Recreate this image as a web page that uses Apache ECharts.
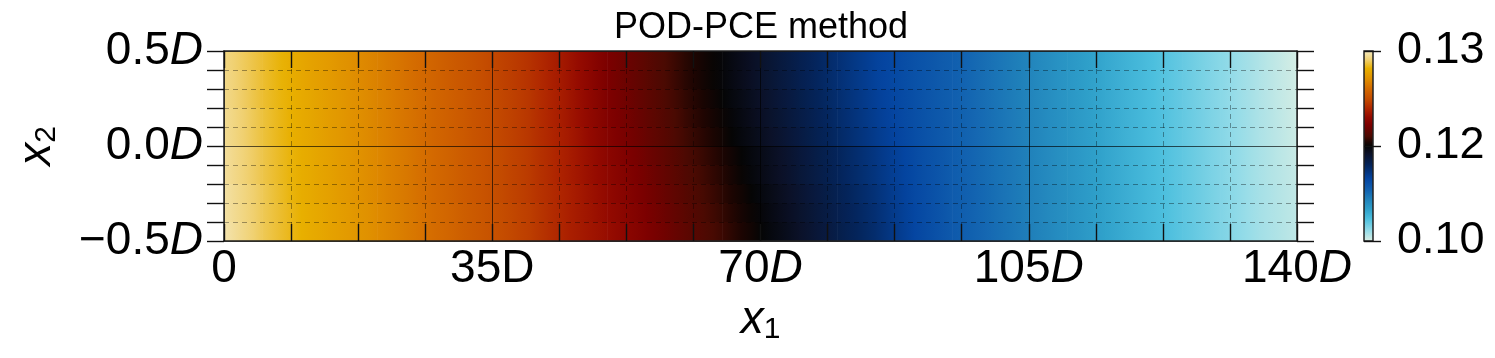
<!DOCTYPE html>
<html>
<head>
<meta charset="utf-8">
<script src="https://cdn.jsdelivr.net/npm/echarts/dist/echarts.min.js"></script>
<style>
html, body { margin: 0; padding: 0; background: #fff; }
#container { width: 1495px; height: 358px; }
</style>
</head>
<body>
<div id="container"></div>
<script>
// x1 sample positions (in D) and x2 row bands (in D), top row first
var xPos = [0, 5, 10, 15, 20, 25, 30, 35, 40, 45, 50, 55, 60, 65, 70, 75, 80, 85, 90, 95, 100, 105, 110, 115, 120, 125, 130, 135, 140];
var rowTop = [0.5, 0.4, 0.3, 0.2, 0.1, 0.0, -0.1, -0.2, -0.3, -0.4];
var rowBottom = [0.4, 0.3, 0.2, 0.1, 0.0, -0.1, -0.2, -0.3, -0.4, -0.5];

// field values, one array per row (top -> bottom)
var row0 = [0.1292, 0.1285, 0.1278, 0.1272, 0.1266, 0.1260, 0.1254, 0.1248, 0.1242, 0.1233, 0.1222, 0.1214, 0.1206, 0.1198, 0.1182, 0.1166, 0.1150, 0.1134, 0.1122, 0.1111, 0.1099, 0.1087, 0.1075, 0.1063, 0.1051, 0.1039, 0.1027, 0.1015, 0.1003];
var row1 = [0.1293, 0.1285, 0.1278, 0.1272, 0.1266, 0.1260, 0.1254, 0.1248, 0.1242, 0.1233, 0.1222, 0.1214, 0.1206, 0.1198, 0.1182, 0.1166, 0.1150, 0.1134, 0.1122, 0.1111, 0.1099, 0.1087, 0.1075, 0.1063, 0.1051, 0.1039, 0.1027, 0.1015, 0.1004];
var row2 = [0.1293, 0.1285, 0.1279, 0.1273, 0.1267, 0.1261, 0.1255, 0.1249, 0.1243, 0.1234, 0.1223, 0.1215, 0.1207, 0.1200, 0.1184, 0.1168, 0.1152, 0.1136, 0.1123, 0.1111, 0.1099, 0.1087, 0.1075, 0.1063, 0.1051, 0.1039, 0.1027, 0.1015, 0.1004];
var row3 = [0.1294, 0.1286, 0.1279, 0.1273, 0.1267, 0.1261, 0.1255, 0.1249, 0.1243, 0.1234, 0.1224, 0.1216, 0.1208, 0.1201, 0.1186, 0.1170, 0.1154, 0.1138, 0.1124, 0.1112, 0.1100, 0.1088, 0.1076, 0.1064, 0.1052, 0.1040, 0.1028, 0.1016, 0.1005];
var row4 = [0.1294, 0.1286, 0.1279, 0.1273, 0.1267, 0.1261, 0.1255, 0.1249, 0.1243, 0.1235, 0.1225, 0.1217, 0.1209, 0.1202, 0.1188, 0.1172, 0.1156, 0.1140, 0.1125, 0.1112, 0.1100, 0.1088, 0.1076, 0.1064, 0.1052, 0.1040, 0.1028, 0.1016, 0.1006];
var row5 = [0.1295, 0.1287, 0.1280, 0.1274, 0.1268, 0.1262, 0.1256, 0.1250, 0.1244, 0.1236, 0.1227, 0.1219, 0.1211, 0.1204, 0.1192, 0.1176, 0.1160, 0.1144, 0.1127, 0.1113, 0.1101, 0.1089, 0.1077, 0.1065, 0.1053, 0.1041, 0.1029, 0.1017, 0.1007];
var row6 = [0.1295, 0.1287, 0.1280, 0.1274, 0.1268, 0.1262, 0.1256, 0.1250, 0.1244, 0.1236, 0.1228, 0.1220, 0.1212, 0.1205, 0.1193, 0.1177, 0.1161, 0.1145, 0.1128, 0.1113, 0.1101, 0.1089, 0.1077, 0.1065, 0.1053, 0.1041, 0.1029, 0.1017, 0.1008];
var row7 = [0.1296, 0.1288, 0.1280, 0.1274, 0.1268, 0.1262, 0.1256, 0.1250, 0.1244, 0.1237, 0.1229, 0.1221, 0.1213, 0.1206, 0.1196, 0.1180, 0.1164, 0.1148, 0.1129, 0.1114, 0.1102, 0.1090, 0.1078, 0.1066, 0.1054, 0.1042, 0.1030, 0.1018, 0.1009];
var row8 = [0.1296, 0.1288, 0.1281, 0.1275, 0.1269, 0.1263, 0.1257, 0.1251, 0.1245, 0.1237, 0.1230, 0.1222, 0.1214, 0.1207, 0.1198, 0.1182, 0.1166, 0.1150, 0.1130, 0.1114, 0.1102, 0.1090, 0.1078, 0.1066, 0.1054, 0.1042, 0.1030, 0.1018, 0.1010];
var row9 = [0.1297, 0.1288, 0.1281, 0.1275, 0.1269, 0.1263, 0.1257, 0.1251, 0.1245, 0.1237, 0.1231, 0.1223, 0.1215, 0.1208, 0.1200, 0.1184, 0.1168, 0.1152, 0.1131, 0.1115, 0.1103, 0.1091, 0.1079, 0.1067, 0.1055, 0.1043, 0.1031, 0.1019, 0.1010];
var rows = [row0, row1, row2, row3, row4, row5, row6, row7, row8, row9];

// tick labels
var xTickVals = [0, 35, 70, 105, 140];
var xTickText = ['{n|0}', '{n|35D}', '{n|70}{i|D}', '{n|105}{i|D}', '{n|140}{i|D}'];
var yTickVals = [-0.5, 0, 0.5];
var yTickText = ['{n|\u22120.5}{i|D}', '{n|0.0}{i|D}', '{n|0.5}{i|D}'];
var cbarTickText = ['0.10', '0.12', '0.13'];

// two-slope norm: 0.10 -> 0, 0.12 -> 0.5, 0.13 -> 1
var vMin = 0.10, vCenter = 0.12, vMax = 0.13;

var cmapStops = [
    [0.00, '#dff0e4'], [0.06, '#92dbe8'], [0.12, '#4cbfde'], [0.17, '#2fa0ca'],
    [0.22, '#2183bb'], [0.27, '#1262b0'], [0.33, '#0444a0'], [0.40, '#04245a'],
    [0.46, '#0b1128'], [0.50, '#050505'], [0.52, '#1c0502'], [0.55, '#4a0a02'],
    [0.61, '#7c0000'], [0.65, '#940a00'], [0.69, '#ad2200'], [0.745, '#c44c00'],
    [0.80, '#d46b00'], [0.85, '#e08f00'], [0.905, '#e8b000'], [0.95, '#f0d070'],
    [1.00, '#f5ecc8']
];

function toT(v) {
    var t = v <= vCenter ? 0.5 * (v - vMin) / (vCenter - vMin) : 0.5 + 0.5 * (v - vCenter) / (vMax - vCenter);
    return Math.max(0, Math.min(1, t));
}
function hex(c) {
    return [parseInt(c.substr(1, 2), 16), parseInt(c.substr(3, 2), 16), parseInt(c.substr(5, 2), 16)];
}
function cmap(t) {
    for (var k = 1; k < cmapStops.length; k++) {
        if (t <= cmapStops[k][0]) {
            var a = cmapStops[k - 1], b = cmapStops[k];
            var f = (t - a[0]) / (b[0] - a[0]);
            var ca = hex(a[1]), cb = hex(b[1]);
            return 'rgb(' + Math.round(ca[0] + (cb[0] - ca[0]) * f) + ',' + Math.round(ca[1] + (cb[1] - ca[1]) * f) + ',' + Math.round(ca[2] + (cb[2] - ca[2]) * f) + ')';
        }
    }
    return cmapStops[cmapStops.length - 1][1];
}

var cells = [];
for (var j = 0; j < rows.length; j++) {
    for (var i = 0; i < xPos.length - 1; i++) {
        cells.push([xPos[i], xPos[i + 1], rowBottom[j], rowTop[j], rows[j][i], rows[j][i + 1]]);
    }
}

var font = 'Liberation Sans';
var tickLine = { color: '#111', width: 1.4 };
var richLabel = {
    n: { fontFamily: font, fontSize: 46, color: '#000' },
    i: { fontFamily: font, fontSize: 46, color: '#000', fontStyle: 'italic' }
};
var richName = {
    x: { fontFamily: font, fontSize: 46, color: '#000', fontStyle: 'italic', lineHeight: 50 },
    s: { fontFamily: font, fontSize: 30, color: '#000', lineHeight: 21, verticalAlign: 'bottom' }
};

var dom = document.getElementById('container');
var myChart = echarts.init(dom, null, { renderer: 'canvas' });
var option;
option = {
    animation: false,
    backgroundColor: '#fff',
    title: {
        text: 'POD-PCE method',
        left: 614,
        top: 10,
        padding: 0,
        textStyle: { fontFamily: font, fontSize: 36, fontWeight: 'normal', color: '#000' }
    },
    grid: [
        { left: 224, top: 51, width: 1073, height: 190 },
        { left: 1364, top: 51, width: 9, height: 190 }
    ],
    xAxis: [
        {
            gridIndex: 0, type: 'value', min: 0, max: 140, interval: 35, position: 'bottom', z: 10,
            axisLine: { show: true, onZero: false, lineStyle: { color: '#222', width: 1.5 } },
            axisTick: { show: true, inside: true, length: 17, lineStyle: tickLine },
            minorTick: { show: true, splitNumber: 4, length: 17, lineStyle: tickLine },
            splitLine: { show: true, lineStyle: { color: 'rgba(0,0,0,0.65)', width: 1 } },
            minorSplitLine: { show: true, lineStyle: { color: 'rgba(0,0,0,0.36)', width: 1, type: [5, 4] } },
            axisLabel: {
                margin: 5,
                formatter: function (v) { return xTickText[xTickVals.indexOf(v)]; },
                rich: richLabel
            },
            name: '{x|x}{s|1}',
            nameLocation: 'middle',
            nameGap: 54,
            nameTextStyle: { rich: richName }
        },
        {
            gridIndex: 0, type: 'value', min: 0, max: 140, interval: 35, position: 'top', z: 10,
            axisLine: { show: true, onZero: false, lineStyle: { color: '#222', width: 1.5 } },
            axisTick: { show: true, inside: true, length: 17, lineStyle: tickLine },
            minorTick: { show: true, splitNumber: 4, length: 17, lineStyle: tickLine },
            splitLine: { show: false },
            axisLabel: { show: false }
        },
        { gridIndex: 1, type: 'value', min: 0, max: 1, show: false }
    ],
    yAxis: [
        {
            gridIndex: 0, type: 'value', min: -0.5, max: 0.5, interval: 0.5, position: 'left', z: 10,
            axisLine: { show: true, onZero: false, lineStyle: { color: '#222', width: 1.5 } },
            axisTick: { show: true, inside: false, length: 17, lineStyle: tickLine },
            minorTick: { show: true, splitNumber: 5, length: 17, lineStyle: tickLine },
            splitLine: { show: true, lineStyle: { color: 'rgba(0,0,0,0.65)', width: 1 } },
            minorSplitLine: { show: true, lineStyle: { color: 'rgba(0,0,0,0.36)', width: 1, type: [5, 4] } },
            axisLabel: {
                margin: 21,
                formatter: function (v) { return yTickText[yTickVals.indexOf(Math.round(v * 10) / 10)]; },
                rich: richLabel
            },
            name: '{x|x}{s|2}',
            nameLocation: 'middle',
            nameGap: 162,
            nameTextStyle: { rich: richName }
        },
        {
            gridIndex: 0, type: 'value', min: -0.5, max: 0.5, interval: 0.5, position: 'right', z: 10,
            axisLine: { show: true, onZero: false, lineStyle: { color: '#222', width: 1.5 } },
            axisTick: { show: true, inside: false, length: 17, lineStyle: tickLine },
            minorTick: { show: true, splitNumber: 5, length: 17, lineStyle: tickLine },
            splitLine: { show: false },
            axisLabel: { show: false }
        },
        {
            gridIndex: 1, type: 'value', min: 0, max: 1, interval: 0.5, position: 'right', z: 10,
            axisLine: { show: false },
            axisTick: { show: true, inside: false, length: 17, lineStyle: tickLine },
            splitLine: { show: false },
            axisLabel: {
                margin: 24,
                fontFamily: font, fontSize: 45, color: '#000',
                formatter: function (v) { return cbarTickText[Math.round(v * 2)]; }
            }
        }
    ],
    series: [
        {
            type: 'custom',
            xAxisIndex: 0, yAxisIndex: 0,
            silent: true,
            data: cells,
            encode: { x: [0, 1], y: [2, 3] },
            renderItem: function (params, api) {
                var p0 = api.coord([api.value(0), api.value(3)]);
                var p1 = api.coord([api.value(1), api.value(2)]);
                var t0 = toT(api.value(4)), t1 = toT(api.value(5));
                var stops = [];
                for (var k = 0; k <= 4; k++) {
                    stops.push({ offset: k / 4, color: cmap(t0 + (t1 - t0) * k / 4) });
                }
                return {
                    type: 'rect',
                    shape: { x: p0[0], y: p0[1], width: p1[0] - p0[0] + 0.6, height: p1[1] - p0[1] + 0.6 },
                    style: { fill: { type: 'linear', x: 0, y: 0, x2: 1, y2: 0, colorStops: stops } }
                };
            }
        },
        {
            type: 'custom',
            xAxisIndex: 2, yAxisIndex: 2,
            silent: true,
            data: [[0, 1, 0, 1]],
            encode: { x: [0, 1], y: [2, 3] },
            renderItem: function (params, api) {
                var p0 = api.coord([api.value(0), api.value(3)]);
                var p1 = api.coord([api.value(1), api.value(2)]);
                var stops = [];
                for (var k = 0; k < cmapStops.length; k++) {
                    stops.push({ offset: 1 - cmapStops[k][0], color: cmapStops[k][1] });
                }
                stops.reverse();
                return {
                    type: 'rect',
                    shape: { x: p0[0], y: p0[1], width: p1[0] - p0[0], height: p1[1] - p0[1] },
                    style: { fill: { type: 'linear', x: 0, y: 0, x2: 0, y2: 1, colorStops: stops }, stroke: '#222', lineWidth: 1.5 }
                };
            }
        }
    ]
};

if (option && typeof option === 'object') {
    myChart.setOption(option);
}
</script>
</body>
</html>
